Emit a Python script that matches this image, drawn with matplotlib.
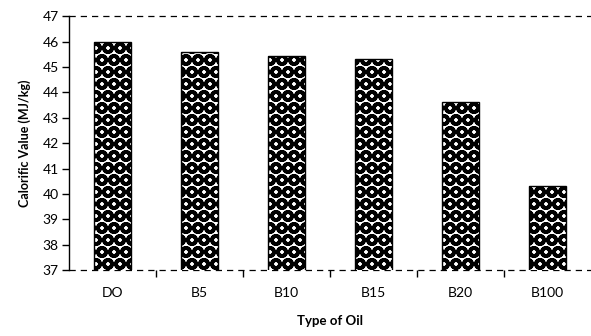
import numpy as np
import matplotlib.pyplot as plt

# render at 72 dpi so the hatch tile is 72 px -> circles ~12 px apart like the reference
DPI = 72
K = 100 / DPI  # scale factor for sizes given in "100 dpi" terms

plt.rcParams['font.family'] = ['Lato', 'DejaVu Sans']
plt.rcParams['hatch.color'] = 'black'
plt.rcParams['hatch.linewidth'] = 3.6

oils = ['DO', 'B5', 'B10', 'B15', 'B20', 'B100']
calorific = [46.0, 45.6, 45.45, 45.3, 43.6, 40.3]

fig = plt.figure(figsize=(591 / DPI, 336 / DPI), dpi=DPI)
ax = fig.add_axes([0.1168, 0.196, 0.8832, 0.756])

x = np.arange(len(oils))
ax.bar(x, calorific, width=0.43, color='white', edgecolor='black',
       hatch='O', linewidth=0, zorder=2)
ax.bar(x, calorific, width=0.43, color='none', edgecolor='black', linewidth=1.0 * K, zorder=3)

ax.set_ylim(37, 47)
ax.set_xlim(-0.5, len(oils) - 0.5)
ax.set_yticks(np.arange(37, 48, 1))
ax.set_xticks(x)
ax.set_xticklabels(oils)
ax.set_xticks(np.arange(0.5, len(oils) - 0.5, 1), minor=True)
ax.tick_params(axis='x', which='major', length=0, pad=12 * K, labelsize=10 * K)
ax.tick_params(axis='x', which='minor', length=5 * K, direction='out', width=1 * K)
ax.tick_params(axis='y', length=5 * K, direction='out', width=1 * K, labelsize=10 * K)

for yv in (37, 47):
    ax.axhline(yv, color='black', linestyle=(0, (5, 4)), linewidth=0.9 * K, zorder=1, clip_on=False)

for s in ['top', 'right', 'bottom']:
    ax.spines[s].set_visible(False)
ax.spines['left'].set_linewidth(1.0 * K)

ax.set_xlabel('Type of Oil', fontweight='bold', fontsize=9.5 * K, labelpad=12 * K)
ax.set_ylabel('Calorific Value (MJ/kg)', fontweight='bold', fontsize=9 * K, labelpad=8 * K)

fig.savefig('out.png', dpi=DPI)
